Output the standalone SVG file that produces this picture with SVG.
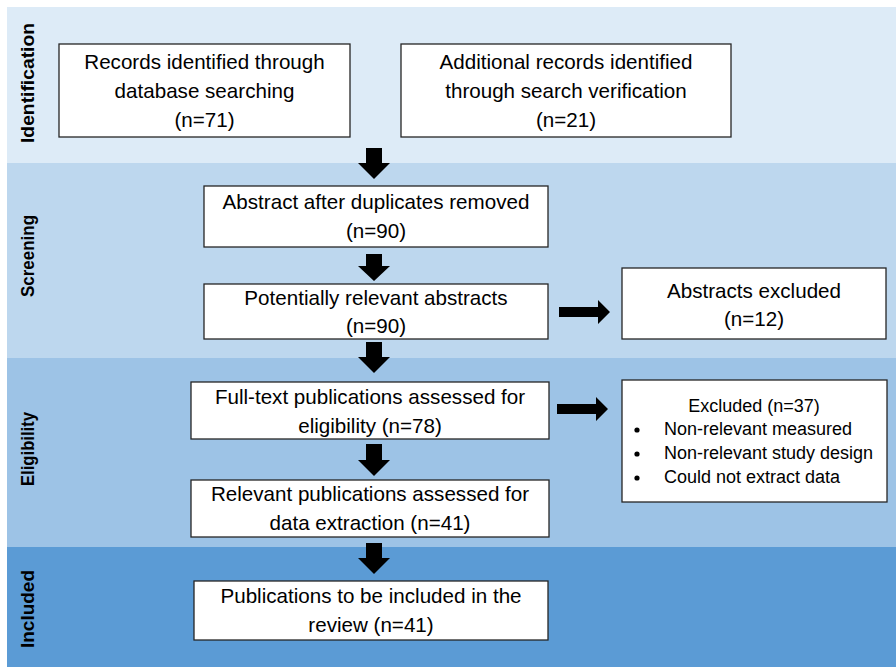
<svg xmlns="http://www.w3.org/2000/svg" width="896" height="667" viewBox="0 0 896 667">
<style>
.box{fill:#ffffff;stroke:#262626;stroke-width:1.3}
.t{font-family:"Liberation Sans",Arial,sans-serif;font-size:20.6px;fill:#000;text-anchor:middle}
.s{font-family:"Liberation Sans",Arial,sans-serif;font-size:18px;fill:#000}
.lab{font-family:"Liberation Sans",Arial,sans-serif;font-size:18px;font-weight:bold;fill:#000;text-anchor:middle}
.arr{fill:#000}
</style>
<rect x="0" y="0" width="896" height="667" fill="#ffffff"/>
<g id="bands">
<rect x="7" y="7" width="889" height="156" fill="#DDEBF7"/>
<rect x="7" y="163" width="889" height="195" fill="#BDD7EE"/>
<rect x="7" y="358" width="889" height="189" fill="#9DC3E6"/>
<rect x="7" y="547" width="889" height="120" fill="#5B9BD5"/>
<text class="lab" transform="translate(34,83) rotate(-90)" textLength="120" lengthAdjust="spacingAndGlyphs">Identification</text>
<text class="lab" transform="translate(34,256) rotate(-90)" textLength="82" lengthAdjust="spacingAndGlyphs">Screening</text>
<text class="lab" transform="translate(34,449) rotate(-90)" textLength="74" lengthAdjust="spacingAndGlyphs">Eligibility</text>
<text class="lab" transform="translate(34,609) rotate(-90)" textLength="78" lengthAdjust="spacingAndGlyphs">Included</text>
</g>
<g id="connectors">
<polygon class="arr" points="366,148 382,148 382,163 390,163 374,179 358,163 366,163"/>
<polygon class="arr" points="366,254 382,254 382,266 390,266 374,281 358,266 366,266"/>
<polygon class="arr" points="366,342 382,342 382,357 390,357 374,373 358,357 366,357"/>
<polygon class="arr" points="366,444 382,444 382,460 390,460 374,476 358,460 366,460"/>
<polygon class="arr" points="366,543 382,543 382,558 390,558 374,574 358,558 366,558"/>
<polygon class="arr" points="559,307 598,307 598,300 610,312 598,324 598,317 559,317"/>
<polygon class="arr" points="557,404 596,404 596,397 608,409 596,421 596,414 557,414"/>
</g>
<g id="n1">
<rect class="box" x="59" y="44" width="291" height="93"/>
<text class="t" x="204.5" y="69">Records identified through</text>
<text class="t" x="204.5" y="98">database searching</text>
<text class="t" x="204.5" y="127">(n=71)</text>
</g>
<g id="n2">
<rect class="box" x="401" y="44" width="330" height="93"/>
<text class="t" x="566" y="69">Additional records identified</text>
<text class="t" x="566" y="98">through search verification</text>
<text class="t" x="566" y="127">(n=21)</text>
</g>
<g id="n3">
<rect class="box" x="204" y="186" width="344" height="61"/>
<text class="t" x="376" y="209">Abstract after duplicates removed</text>
<text class="t" x="376" y="238">(n=90)</text>
</g>
<g id="n4">
<rect class="box" x="204" y="284" width="344" height="55"/>
<text class="t" x="376" y="305">Potentially relevant abstracts</text>
<text class="t" x="376" y="333">(n=90)</text>
</g>
<g id="n5">
<rect class="box" x="622" y="268" width="264" height="71"/>
<text class="t" x="754" y="298">Abstracts excluded</text>
<text class="t" x="754" y="326">(n=12)</text>
</g>
<g id="n6">
<rect class="box" x="191" y="382" width="358" height="57"/>
<text class="t" x="370" y="404">Full-text publications assessed for</text>
<text class="t" x="370" y="433">eligibility (n=78)</text>
</g>
<g id="n7">
<rect class="box" x="191" y="480" width="358" height="57"/>
<text class="t" x="370" y="501">Relevant publications assessed for</text>
<text class="t" x="370" y="530">data extraction (n=41)</text>
</g>
<g id="n8">
<rect class="box" x="622" y="380" width="265" height="122"/>
<text class="s" x="754" y="412" text-anchor="middle">Excluded (n=37)</text>
<circle cx="637" cy="430" r="2.6"/>
<circle cx="637" cy="454" r="2.6"/>
<circle cx="637" cy="478" r="2.6"/>
<text class="s" x="664" y="435">Non-relevant measured</text>
<text class="s" x="664" y="459">Non-relevant study design</text>
<text class="s" x="664" y="483">Could not extract data</text>
</g>
<g id="n9">
<rect class="box" x="194" y="581" width="354" height="59"/>
<text class="t" x="371" y="603">Publications to be included in the</text>
<text class="t" x="371" y="632">review (n=41)</text>
</g>
</svg>
